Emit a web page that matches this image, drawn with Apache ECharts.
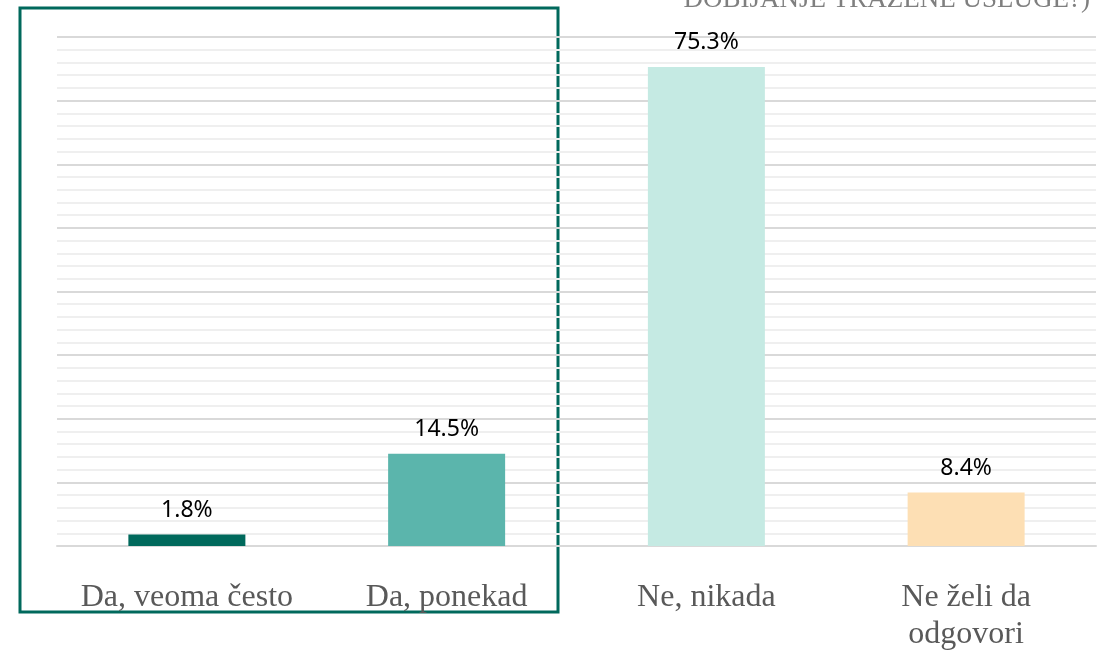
<!DOCTYPE html>
<html>
<head>
<meta charset="utf-8">
<script src="https://cdn.jsdelivr.net/npm/echarts@6/dist/echarts.min.js"></script>
<style>
  html, body { margin: 0; padding: 0; background: #fff; }
  #chart { width: 1099px; height: 653px; }
</style>
</head>
<body>
<div id="chart"></div>
<script>
const categories = ['Da, veoma često', 'Da, ponekad', 'Ne, nikada', 'Ne želi da\nodgovori']
const values = [1.8, 14.5, 75.3, 8.4]
const barColors = ['#00695c', '#5bb5ac', '#c5eae3', '#fddfb4']
const yTicks = [0, 10, 20, 30, 40, 50, 60, 70, 80]

const chart = echarts.init(document.getElementById('chart'))

chart.setOption({
  animation: false,
  backgroundColor: '#fff',
  grid: { left: 57, right: 3, top: 37, bottom: 107 },
  graphic: [
    {
      type: 'rect',
      z: -10,
      shape: { x: 20, y: 8, width: 538, height: 604 },
      style: { fill: 'none', stroke: '#00695c', lineWidth: 3 },
    },
    {
      type: 'text',
      style: {
        text: 'DOBIJANJE TRAŽENE USLUGE?)',
        x: 1090,
        y: 13,
        align: 'right',
        verticalAlign: 'bottom',
        font: '27px "Liberation Serif"',
        fill: '#7f7f7f',
      },
    },
  ],
  xAxis: {
    type: 'category',
    data: categories,
    axisTick: { show: false },
    axisLine: { lineStyle: { color: '#d9d9d9', width: 2 } },
    axisLabel: {
      interval: 0,
      hideOverlap: false,
      color: '#595959',
      fontFamily: 'Liberation Serif',
      fontSize: 32,
      lineHeight: 37,
      margin: 33,
    },
  },
  yAxis: {
    type: 'value',
    min: yTicks[0],
    max: yTicks[yTicks.length - 1],
    interval: 10,
    axisLabel: { show: false },
    axisLine: { show: false },
    axisTick: { show: false },
    splitLine: { lineStyle: { color: '#d9d9d9', width: 2 } },
    minorTick: { show: false, splitNumber: 5 },
    minorSplitLine: { show: true, lineStyle: { color: '#efefef', width: 2 } },
  },
  series: [
    {
      type: 'bar',
      barWidth: 117,
      data: values.map((v, i) => ({ value: v, itemStyle: { color: barColors[i] } })),
      label: {
        show: true,
        position: 'top',
        distance: 13,
        color: '#000',
        fontFamily: 'Noto Sans',
        fontSize: 23,
        formatter: (p) => p.value.toFixed(1) + '%',
      },
    },
  ],
})
</script>
</body>
</html>
